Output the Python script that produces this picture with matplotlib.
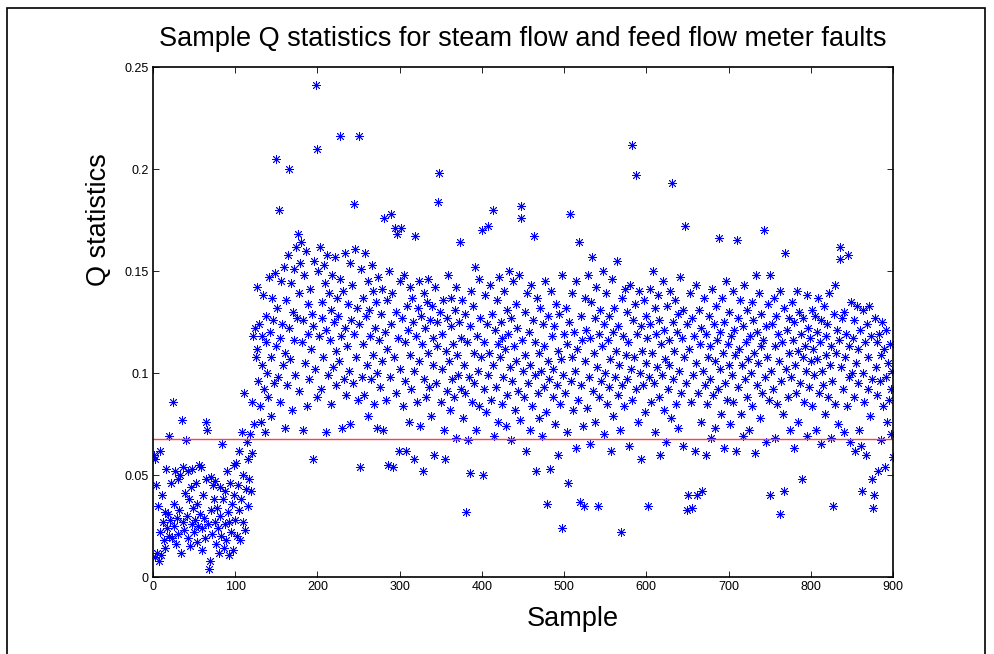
import numpy as np
import matplotlib
matplotlib.use('Agg')
import matplotlib.pyplot as plt
from matplotlib.patches import Rectangle
from matplotlib.ticker import FormatStrFormatter

plt.rcParams['font.family'] = ['Liberation Sans', 'DejaVu Sans']

# Q statistic per sample, in thousandths (25 per row)
q_milli = [
    60, 58, 10, 45, 12, 35, 8, 62, 22, 11, 40, 27, 18, 32, 14, 53, 24, 31, 20, 69, 28, 46, 19, 86, 25,
    36, 52, 16, 29, 48, 21, 33, 50, 12, 77, 27, 54, 23, 41, 67, 30, 19, 52, 38, 15, 44, 26, 53, 34, 22,
    28, 46, 17, 36, 25, 55, 31, 54, 13, 24, 40, 29, 19, 48, 76, 72, 26, 4, 8, 33, 49, 21, 45, 38, 27,
    47, 16, 34, 24, 12, 44, 30, 20, 65, 38, 14, 26, 42, 18, 52, 32, 11, 27, 46, 22, 36, 13, 55, 40, 28,
    56, 20, 45, 33, 62, 18, 38, 71, 27, 50, 90, 23, 43, 66, 35, 58, 48, 70, 42, 61, 86, 118, 75, 122, 108,
    142, 112, 96, 124, 84, 76, 118, 104, 138, 92, 71, 128, 115, 100, 88, 147, 120, 108, 79, 137, 126, 95, 149, 205, 113,
    132, 98, 180, 117, 86, 145, 124, 104, 152, 73, 110, 136, 94, 158, 122, 200, 107, 144, 82, 130, 151, 116, 99, 162, 127,
    168, 139, 91, 154, 164, 115, 72, 126, 148, 105, 160, 84, 134, 119, 97, 141, 112, 129, 58, 123, 155, 102, 241, 210, 88,
    150, 118, 162, 92, 135, 127, 108, 153, 144, 71, 121, 158, 99, 139, 116, 85, 131, 148, 103, 125, 157, 111, 94, 137, 128,
    106, 146, 216, 118, 73, 140, 97, 122, 159, 89, 113, 134, 101, 154, 75, 126, 143, 95, 183, 119, 161, 108, 132, 87, 216,
    124, 54, 151, 98, 137, 114, 89, 159, 128, 104, 145, 79, 131, 118, 97, 153, 109, 140, 85, 122, 135, 100, 73, 147, 116,
    93, 129, 141, 106, 72, 176, 120, 87, 136, 112, 55, 150, 98, 124, 178, 139, 54, 108, 171, 130, 90, 168, 117, 62, 145,
    102, 171, 127, 84, 148, 115, 96, 62, 133, 121, 76, 142, 109, 92, 137, 125, 101, 58, 167, 118, 86, 132, 145, 106, 74,
    128, 114, 52, 139, 97, 122, 88, 135, 110, 146, 93, 126, 79, 133, 104, 117, 60, 142, 95, 125, 113, 184, 198, 130, 86,
    119, 102, 136, 72, 58, 111, 127, 91, 148, 106, 82, 123, 137, 97, 114, 88, 131, 68, 142, 109, 99, 125, 164, 92, 117,
    136, 78, 104, 129, 90, 32, 115, 67, 98, 51, 123, 140, 86, 133, 110, 95, 152, 72, 118, 101, 146, 84, 127, 108, 170,
    50, 92, 115, 138, 81, 124, 99, 172, 110, 143, 87, 129, 180, 104, 69, 121, 93, 136, 114, 76, 147, 108, 125, 85, 117,
    98, 140, 112, 74, 131, 89, 119, 150, 103, 67, 127, 96, 145, 113, 82, 134, 106, 122, 91, 148, 77, 182, 176, 116, 101,
    88, 130, 109, 62, 139, 95, 120, 72, 104, 143, 84, 126, 167, 99, 115, 52, 137, 90, 110, 78, 132, 101, 69, 124, 93,
    113, 145, 81, 36, 106, 128, 97, 53, 140, 118, 88, 102, 123, 75, 134, 94, 111, 60, 129, 85, 107, 148, 24, 99, 119,
    90, 132, 71, 114, 46, 125, 178, 96, 108, 139, 82, 120, 101, 63, 145, 112, 87, 164, 37, 128, 94, 116, 74, 35, 137,
    106, 121, 83, 148, 98, 117, 65, 135, 157, 91, 110, 127, 76, 142, 103, 35, 119, 88, 131, 96, 113, 150, 70, 124, 100,
    139, 85, 116, 93, 128, 107, 62, 146, 120, 79, 132, 98, 111, 155, 89, 123, 104, 72, 22, 137, 94, 118, 84, 141, 109,
    97, 130, 115, 64, 143, 102, 212, 87, 126, 108, 134, 92, 197, 119, 76, 140, 100, 123, 58, 111, 94, 136, 81, 128, 105,
    117, 35, 98, 141, 124, 86, 110, 150, 95, 132, 71, 119, 103, 138, 88, 126, 60, 114, 99, 145, 82, 121, 107, 66, 133,
    92, 116, 104, 140, 78, 193, 125, 97, 111, 136, 85, 120, 73, 129, 101, 147, 90, 117, 64, 131, 108, 172, 95, 33, 124,
    40, 112, 139, 86, 34, 127, 99, 118, 62, 143, 105, 40, 90, 131, 114, 76, 122, 42, 101, 137, 94, 60, 119, 85, 108,
    128, 97, 113, 68, 141, 89, 124, 106, 73, 133, 116, 92, 166, 102, 120, 80, 137, 110, 63, 125, 95, 145, 87, 114, 104,
    130, 75, 118, 99, 140, 86, 121, 109, 62, 165, 127, 93, 112, 136, 80, 104, 123, 69, 143, 97, 115, 88, 131, 107, 72,
    118, 100, 135, 84, 126, 110, 61, 148, 94, 120, 105, 139, 78, 113, 129, 90, 116, 170, 98, 123, 66, 108, 134, 87, 40,
    148, 101, 124, 92, 137, 113, 68, 128, 85, 119, 106, 31, 140, 96, 115, 80, 132, 42, 159, 102, 121, 88, 110, 127, 72,
    98, 135, 116, 63, 125, 104, 90, 140, 111, 76, 130, 95, 119, 48, 108, 127, 86, 113, 101, 138, 69, 122, 93, 117, 106,
    131, 84, 112, 99, 128, 72, 120, 107, 137, 90, 115, 65, 126, 101, 94, 133, 80, 118, 109, 124, 88, 139, 104, 113, 68,
    96, 35, 129, 143, 85, 110, 121, 75, 116, 162, 156, 103, 127, 92, 130, 71, 108, 119, 84, 158, 98, 113, 66, 135, 100,
    117, 88, 126, 62, 105, 133, 95, 112, 72, 121, 64, 42, 100, 131, 86, 115, 60, 124, 92, 108, 133, 79, 118, 48, 97,
    34, 40, 127, 103, 89, 115, 52, 119, 96, 109, 67, 125, 84, 112, 54, 98, 121, 76, 105, 87, 114, 70, 92, 101, 59,
]
q_limit = 0.0676  # control limit (red line)

q = np.array(q_milli) / 1000.0
samples = np.arange(1, len(q) + 1)

fig = plt.figure(figsize=(9.94, 6.54), dpi=100)
ax = fig.add_axes([153/994, 77/654, 740/994, 510/654])

ax.plot(samples, q, linestyle='none', marker=(8, 2, 0), markersize=6.5,
        markeredgewidth=0.6, color='#0000ff')
ax.axhline(q_limit, color='#ff4040', linewidth=1.0)

ax.set_xlim(0, 900)
ax.set_ylim(0, 0.25)
ax.set_xticks(np.arange(0, 901, 100))
ax.set_yticks([0, 0.05, 0.1, 0.15, 0.2, 0.25])
ax.yaxis.set_major_formatter(FormatStrFormatter('%g'))
ax.tick_params(direction='in', top=True, right=True, labelsize=9,
               length=4, width=0.6, pad=3)
for s in ax.spines.values():
    s.set_linewidth(1.2)

ax.set_title('Sample Q statistics for steam flow and feed flow meter faults',
             fontsize=19.5, pad=15)
ax.set_xlabel('Sample', fontsize=19.5)
ax.set_ylabel('Q statistics', fontsize=19.5)
ax.xaxis.set_label_coords(0.567, -0.057)
ax.yaxis.set_label_coords(-0.056, 0.70)

# outer frame of the figure
fig.patches.append(Rectangle((7/994, -0.05), 978/994, 1.05 - 8/654,
                             transform=fig.transFigure, fill=False,
                             edgecolor='black', linewidth=1.2))

fig.savefig('out.png', dpi=100)
